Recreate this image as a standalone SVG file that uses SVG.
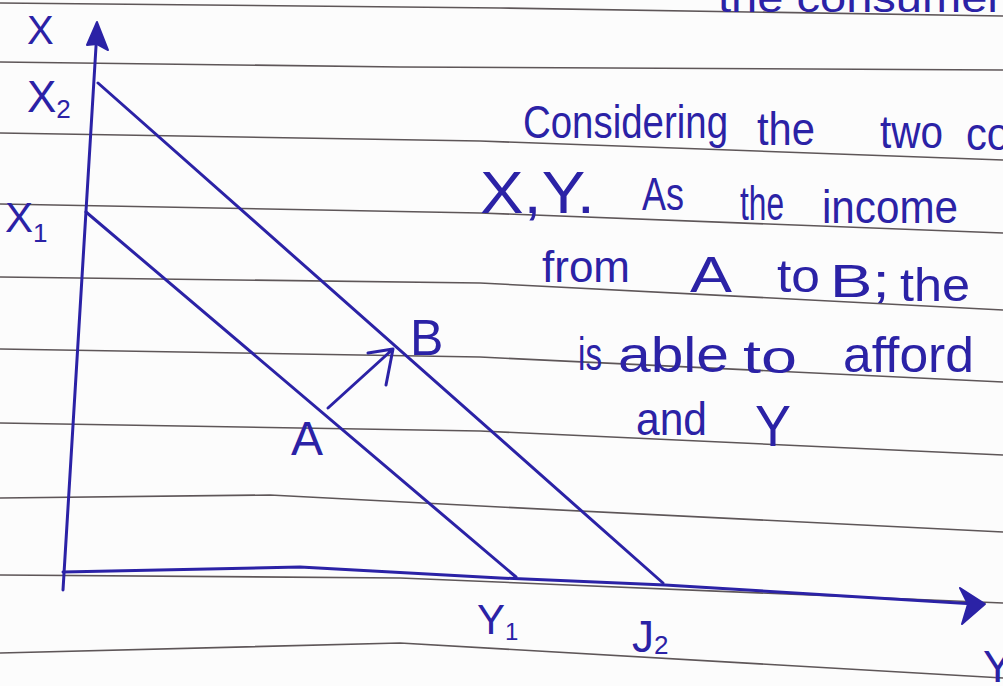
<svg xmlns="http://www.w3.org/2000/svg" width="1003" height="686" viewBox="0 0 1003 686">
<defs>
<style>
.rule{stroke:#5e5658;stroke-width:1.6;fill:none}
.ink{stroke:#2b22a6;stroke-width:3;fill:none;stroke-linecap:round;stroke-linejoin:round}
.head{fill:#2b22a6;stroke:#2b22a6;stroke-width:2;stroke-linejoin:round}
.hw{font-family:"Liberation Sans","DejaVu Sans",sans-serif;fill:#2b22a6}
.lbl{font-family:"Liberation Sans","DejaVu Sans",sans-serif;fill:#2b22a6}
</style>
</defs>
<rect width="1003" height="686" fill="#fcfcfc"/>
<g id="ruled-paper">
<path class="rule" d="M0,3 L500,8 L1003,16"/>
<path class="rule" d="M0,62 L400,67 L1003,70"/>
<path class="rule" d="M0,133 L480,141 L1003,160"/>
<path class="rule" d="M0,204 L480,213 L1003,233"/>
<path class="rule" d="M0,277 L480,283 L1003,310"/>
<path class="rule" d="M0,349 L480,357 L1003,382"/>
<path class="rule" d="M0,423 L480,431 L1003,455"/>
<path class="rule" d="M0,498 L270,495 L500,507 L1003,532"/>
<path class="rule" d="M0,575 L400,578 L1003,603"/>
<path class="rule" d="M0,653 L400,643 L1003,678"/>
</g>
<g id="top-text">
<text class="hw" x="718" y="12" font-size="40" textLength="285" lengthAdjust="spacingAndGlyphs">the consumer</text>
</g>
<g id="connectors">
<path id="x-axis-vertical" class="ink" d="M63,590 L97,30"/>
<path class="head" d="M87,45 L97,22 L108,50 L97,44 Z"/>
<path id="y-axis-horizontal" class="ink" d="M63,572 L300,567 L500,578 L665,585 L975,604"/>
<path class="head" d="M960,588 L985,604 L962,624 L968,604 Z"/>
<path id="budget-line-2" class="ink" d="M98,83 L663,583"/>
<path id="budget-line-1" class="ink" d="M86,212 L516,577"/>
<path id="shift-arrow" class="ink" d="M328,408 L393,349 M368,353 L393,349 L386,385"/>
</g>
<g id="axis-labels">
<text class="lbl" x="27" y="44" font-size="40">X</text>
<text class="lbl" x="27" y="112" font-size="44">X<tspan font-size="26" dy="6">2</tspan></text>
<text class="lbl" x="5" y="232" font-size="42">X<tspan font-size="26" dy="10">1</tspan></text>
<text class="lbl" x="477" y="634" font-size="42">Y<tspan font-size="24" dy="6">1</tspan></text>
<text class="lbl" x="632" y="652" font-size="44">J<tspan font-size="26" dy="2">2</tspan></text>
<text class="lbl" x="983" y="682" font-size="44">Y</text>
</g>
<g id="point-A">
<text class="lbl" x="291" y="455" font-size="48">A</text>
</g>
<g id="point-B">
<text class="lbl" x="410" y="355" font-size="50">B</text>
</g>
<g id="note-text">
<text class="hw" x="523" y="138" font-size="46" textLength="205" lengthAdjust="spacingAndGlyphs">Considering</text>
<text class="hw" x="757" y="145" font-size="46" textLength="58" lengthAdjust="spacingAndGlyphs">the</text>
<text class="hw" x="880" y="148" font-size="46" textLength="63" lengthAdjust="spacingAndGlyphs">two</text>
<text class="hw" x="966" y="150" font-size="46" textLength="44" lengthAdjust="spacingAndGlyphs">co</text>
<text class="hw" x="480" y="213" font-size="60" textLength="115" lengthAdjust="spacingAndGlyphs">X,Y.</text>
<text class="hw" x="642" y="210" font-size="46" textLength="42" lengthAdjust="spacingAndGlyphs">As</text>
<text class="hw" x="740" y="220" font-size="48" textLength="44" lengthAdjust="spacingAndGlyphs">the</text>
<text class="hw" x="822" y="223" font-size="46" textLength="136" lengthAdjust="spacingAndGlyphs">income</text>
<text class="hw" x="542" y="282" font-size="44" textLength="88" lengthAdjust="spacingAndGlyphs">from</text>
<text class="hw" x="690" y="292" font-size="50" textLength="42" lengthAdjust="spacingAndGlyphs">A</text>
<text class="hw" x="777" y="292" font-size="46" textLength="43" lengthAdjust="spacingAndGlyphs">to</text>
<text class="hw" x="830" y="297" font-size="46" textLength="60" lengthAdjust="spacingAndGlyphs">B;</text>
<text class="hw" x="900" y="301" font-size="46" textLength="70" lengthAdjust="spacingAndGlyphs">the</text>
<text class="hw" x="578" y="370" font-size="46" textLength="24" lengthAdjust="spacingAndGlyphs">is</text>
<text class="hw" x="618" y="372" font-size="50" textLength="111" lengthAdjust="spacingAndGlyphs">able</text>
<text class="hw" x="743" y="373" font-size="46" textLength="54" lengthAdjust="spacingAndGlyphs">to</text>
<text class="hw" x="843" y="372" font-size="50" textLength="131" lengthAdjust="spacingAndGlyphs">afford</text>
<text class="hw" x="636" y="435" font-size="46" textLength="71" lengthAdjust="spacingAndGlyphs">and</text>
<text class="hw" x="755" y="446" font-size="58" textLength="36" lengthAdjust="spacingAndGlyphs">Y</text>
</g>
</svg>
